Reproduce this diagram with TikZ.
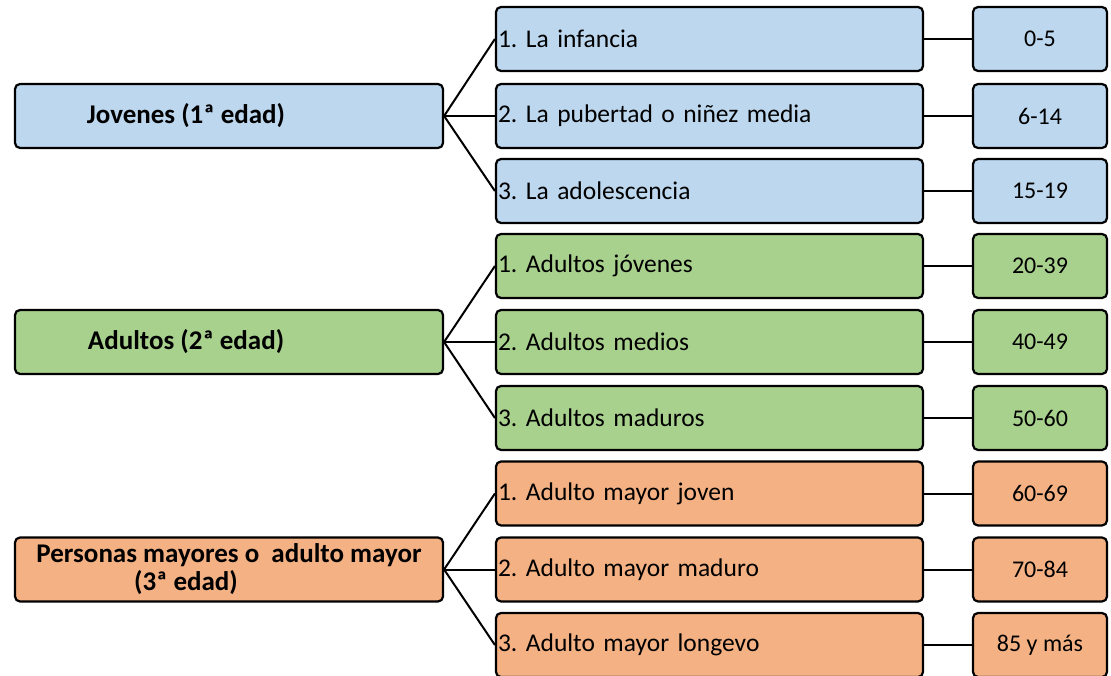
\documentclass[tikz,border=0pt]{standalone}
\usepackage{fontspec}
\setmainfont{Carlito}
\definecolor{cblue}{HTML}{BDD7EE}
\definecolor{cgreen}{HTML}{A9D18E}
\definecolor{corange}{HTML}{F4B183}
\begin{document}
\frenchspacing
\begin{tikzpicture}[x=1pt,y=-1pt,
  box/.style={draw=black, line width=2.2pt, rounded corners=5pt, inner sep=0pt},
  catbox/.style={box, minimum width=428pt, minimum height=64pt, font={\fontsize{27}{28}\selectfont\bfseries\frenchspacing}, align=center},
  stagebox/.style={box, minimum width=427pt, minimum height=64pt, text width=423pt, align=left, font={\fontsize{25.5}{30}\selectfont\frenchspacing}},
  agebox/.style={box, minimum width=134pt, minimum height=64pt, font={\fontsize{24}{28}\selectfont\frenchspacing}},
  link/.style={line width=2pt}]
\useasboundingbox (0,0) rectangle (1111,676);
% categories
\node[catbox, fill=cblue] (c1) at (229,116) {Jovenes (1ª edad)\hspace*{86pt}};
\node[catbox, fill=cgreen] (c2) at (229,342) {Adultos (2ª edad)\hspace*{86pt}};
\node[catbox, fill=corange] (c3) at (229,569.5) {Personas mayores o\ \ adulto mayor\\(3ª edad)\hspace*{86pt}};
% stages
\node[stagebox, fill=cblue] (s1) at (709.5,39) {1. La infancia};
\node[stagebox, fill=cblue] (s2) at (709.5,116) {2. La pubertad o niñez media};
\node[stagebox, fill=cblue] (s3) at (709.5,191) {3. La adolescencia};
\node[stagebox, fill=cgreen] (s4) at (709.5,266) {1. Adultos jóvenes};
\node[stagebox, fill=cgreen] (s5) at (709.5,342) {2. Adultos medios};
\node[stagebox, fill=cgreen] (s6) at (709.5,418) {3. Adultos maduros};
\node[stagebox, fill=corange] (s7) at (709.5,493.5) {1. Adulto mayor joven};
\node[stagebox, fill=corange] (s8) at (709.5,569.5) {2. Adulto mayor maduro};
\node[stagebox, fill=corange] (s9) at (709.5,645) {3. Adulto mayor longevo};
% ages
\node[agebox, fill=cblue] (a1) at (1040,39) {0-5};
\node[agebox, fill=cblue] (a2) at (1040,116) {6-14};
\node[agebox, fill=cblue] (a3) at (1040,191) {15-19};
\node[agebox, fill=cgreen] (a4) at (1040,266) {20-39};
\node[agebox, fill=cgreen] (a5) at (1040,342) {40-49};
\node[agebox, fill=cgreen] (a6) at (1040,418) {50-60};
\node[agebox, fill=corange] (a7) at (1040,493.5) {60-69};
\node[agebox, fill=corange] (a8) at (1040,569.5) {70-84};
\node[agebox, fill=corange] (a9) at (1040,645) {85 y más};
% links
\foreach \c/\a/\b/\d in {c1/s1/s2/s3, c2/s4/s5/s6, c3/s7/s8/s9}{
  \draw[link] (\c.east) -- (\a.west);
  \draw[link] (\c.east) -- (\b.west);
  \draw[link] (\c.east) -- (\d.west);
}
\foreach \i in {1,...,9}{
  \draw[link] (s\i.east) -- (a\i.west);
}
\end{tikzpicture}
\end{document}
